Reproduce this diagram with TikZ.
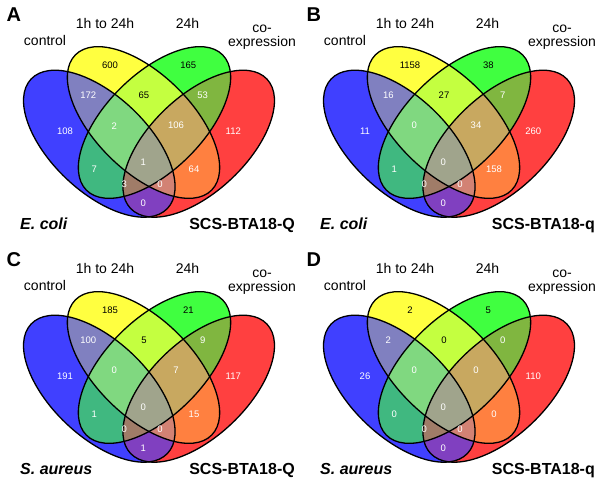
\documentclass[tikz,border=0pt]{standalone}
\usepackage{fontspec}
\setmainfont{Liberation Sans}
\definecolor{cB}{RGB}{64,64,255}
\definecolor{cY}{RGB}{255,255,64}
\definecolor{cG}{RGB}{64,255,64}
\definecolor{cR}{RGB}{255,64,64}
\definecolor{cBY}{RGB}{128,128,192}
\definecolor{cYG}{RGB}{196,255,64}
\definecolor{cGR}{RGB}{128,182,64}
\definecolor{cBG}{RGB}{64,184,128}
\definecolor{cYR}{RGB}{255,128,64}
\definecolor{cBR}{RGB}{128,64,192}
\definecolor{cBYG}{RGB}{128,216,128}
\definecolor{cYGR}{RGB}{200,168,96}
\definecolor{cBGR}{RGB}{160,124,104}
\definecolor{cBYR}{RGB}{210,130,116}
\definecolor{cBYGR}{RGB}{160,164,140}
\tikzset{
  eB/.style={shift={(99.3,143.7)},rotate=-43.5},
  eY/.style={shift={(143.5,122.5)},rotate=-44.8},
  eG/.style={shift={(154.5,122.5)},rotate=44.8},
  eR/.style={shift={(198.7,143.7)},rotate=43.5},
  outl/.style={draw=black,line width=1.3pt},
  nw/.style={inner sep=0pt,text=white,font=\fontsize{9.5}{10}\selectfont},
  nk/.style={inner sep=0pt,text=black,font=\fontsize{9.5}{10}\selectfont},
  hdr/.style={inner sep=0pt,anchor=base,font=\fontsize{14}{14}\selectfont},
  letter/.style={inner sep=0pt,anchor=base west,font=\fontsize{20}{20}\selectfont\bfseries},
  foot/.style={inner sep=0pt,anchor=base,font=\fontsize{16}{16}\selectfont\bfseries}
}
\newcommand\shBR{(0,0) ellipse [x radius=94pt, y radius=48pt]}
\newcommand\shYG{(0,0) ellipse [x radius=96pt, y radius=48.3pt]}
\newcommand\cB{\clip[eB]\shBR;}
\newcommand\cY{\clip[eY]\shYG;}
\newcommand\cG{\clip[eG]\shYG;}
\newcommand\cR{\clip[eR]\shBR;}
\newcommand\reg[2]{\begin{scope}#1\fill[#2] (-10,-10) rectangle (310,255);\end{scope}}
\newcommand\vennbody[3]{%
  \fill[cB,eB]\shBR; \fill[cY,eY]\shYG; \fill[cG,eG]\shYG; \fill[cR,eR]\shBR;
  \reg{\cB\cY}{cBY}\reg{\cY\cG}{cYG}\reg{\cG\cR}{cGR}
  \reg{\cB\cG}{cBG}\reg{\cY\cR}{cYR}\reg{\cB\cR}{cBR}
  \reg{\cB\cY\cG}{cBYG}\reg{\cY\cG\cR}{cYGR}\reg{\cB\cG\cR}{cBGR}\reg{\cB\cY\cR}{cBYR}
  \reg{\cB\cY\cG\cR}{cBYGR}
  \draw[outl,eB]\shBR; \draw[outl,eY]\shYG; \draw[outl,eG]\shYG; \draw[outl,eR]\shBR;
  \node[letter] (\pfx-letter) at (6.5,21.7) {#1};
  \node[hdr] (\pfx-h1) at (105,28.3) {1h to 24h};
  \node[hdr] (\pfx-h2) at (187.5,28.3) {24h};
  \node[hdr] (\pfx-h0) at (45,45) {control};
  \node[inner sep=0pt,anchor=north,align=center,font=\fontsize{14}{14}\selectfont] (\pfx-h3) at (262,25) {co-\\expression};
  \node[foot,anchor=base west] (\pfx-org) at (20,229.3) {\textit{#2}};
  \node[foot,anchor=base east] (\pfx-strain) at (295,229.3) {#3};
}
\newcommand\numsone[9]{%
  \node[nw] (\pfx-B) at (65,131) {#1};
  \node[nk] (\pfx-Y) at (110,65) {#2};
  \node[nk] (\pfx-G) at (188.3,65) {#3};
  \node[nw] (\pfx-R) at (233.3,131) {#4};
  \node[nw] (\pfx-BY) at (88.3,95) {#5};
  \node[nk] (\pfx-YG) at (144,95) {#6};
  \node[nw] (\pfx-GR) at (202.7,95) {#7};
  \node[nw] (\pfx-BG) at (94.3,169) {#8};
  \node[nw] (\pfx-YR) at (194,169) {#9};}
\newcommand\numstwo[6]{%
  \node[nw] (\pfx-BR) at (143.3,203.3) {#1};
  \node[nw] (\pfx-BYG) at (114.3,125.7) {#2};
  \node[nw] (\pfx-YGR) at (176,125.7) {#3};
  \node[nw] (\pfx-BGR) at (124.3,184) {#4};
  \node[nw] (\pfx-BYR) at (160,184) {#5};
  \node[nw] (\pfx-BYGR) at (143.3,162) {#6};}
\begin{document}
\begin{tikzpicture}[x=1pt,y=-1pt]
\useasboundingbox (0,0) rectangle (600,485);
\fill[white] (0,0) rectangle (600,485);
\begin{scope}[shift={(0,0)}]\def\pfx{A}
  \vennbody{A}{E. coli}{SCS-BTA18-Q}
  \numsone{108}{600}{165}{112}{172}{65}{53}{7}{64}
  \numstwo{0}{2}{106}{3}{0}{1}
\end{scope}
\begin{scope}[shift={(300,0)}]\def\pfx{B}
  \vennbody{B}{E. coli}{SCS-BTA18-q}
  \numsone{11}{1158}{38}{260}{16}{27}{7}{1}{158}
  \numstwo{0}{0}{34}{0}{0}{0}
\end{scope}
\begin{scope}[shift={(0,245)}]\def\pfx{C}
  \vennbody{C}{S. aureus}{SCS-BTA18-Q}
  \numsone{191}{185}{21}{117}{100}{5}{9}{1}{15}
  \numstwo{1}{0}{7}{0}{0}{0}
\end{scope}
\begin{scope}[shift={(300,245)}]\def\pfx{D}
  \vennbody{D}{S. aureus}{SCS-BTA18-q}
  \numsone{26}{2}{5}{110}{2}{0}{0}{0}{0}
  \numstwo{0}{0}{0}{0}{0}{0}
\end{scope}
\end{tikzpicture}
\end{document}
